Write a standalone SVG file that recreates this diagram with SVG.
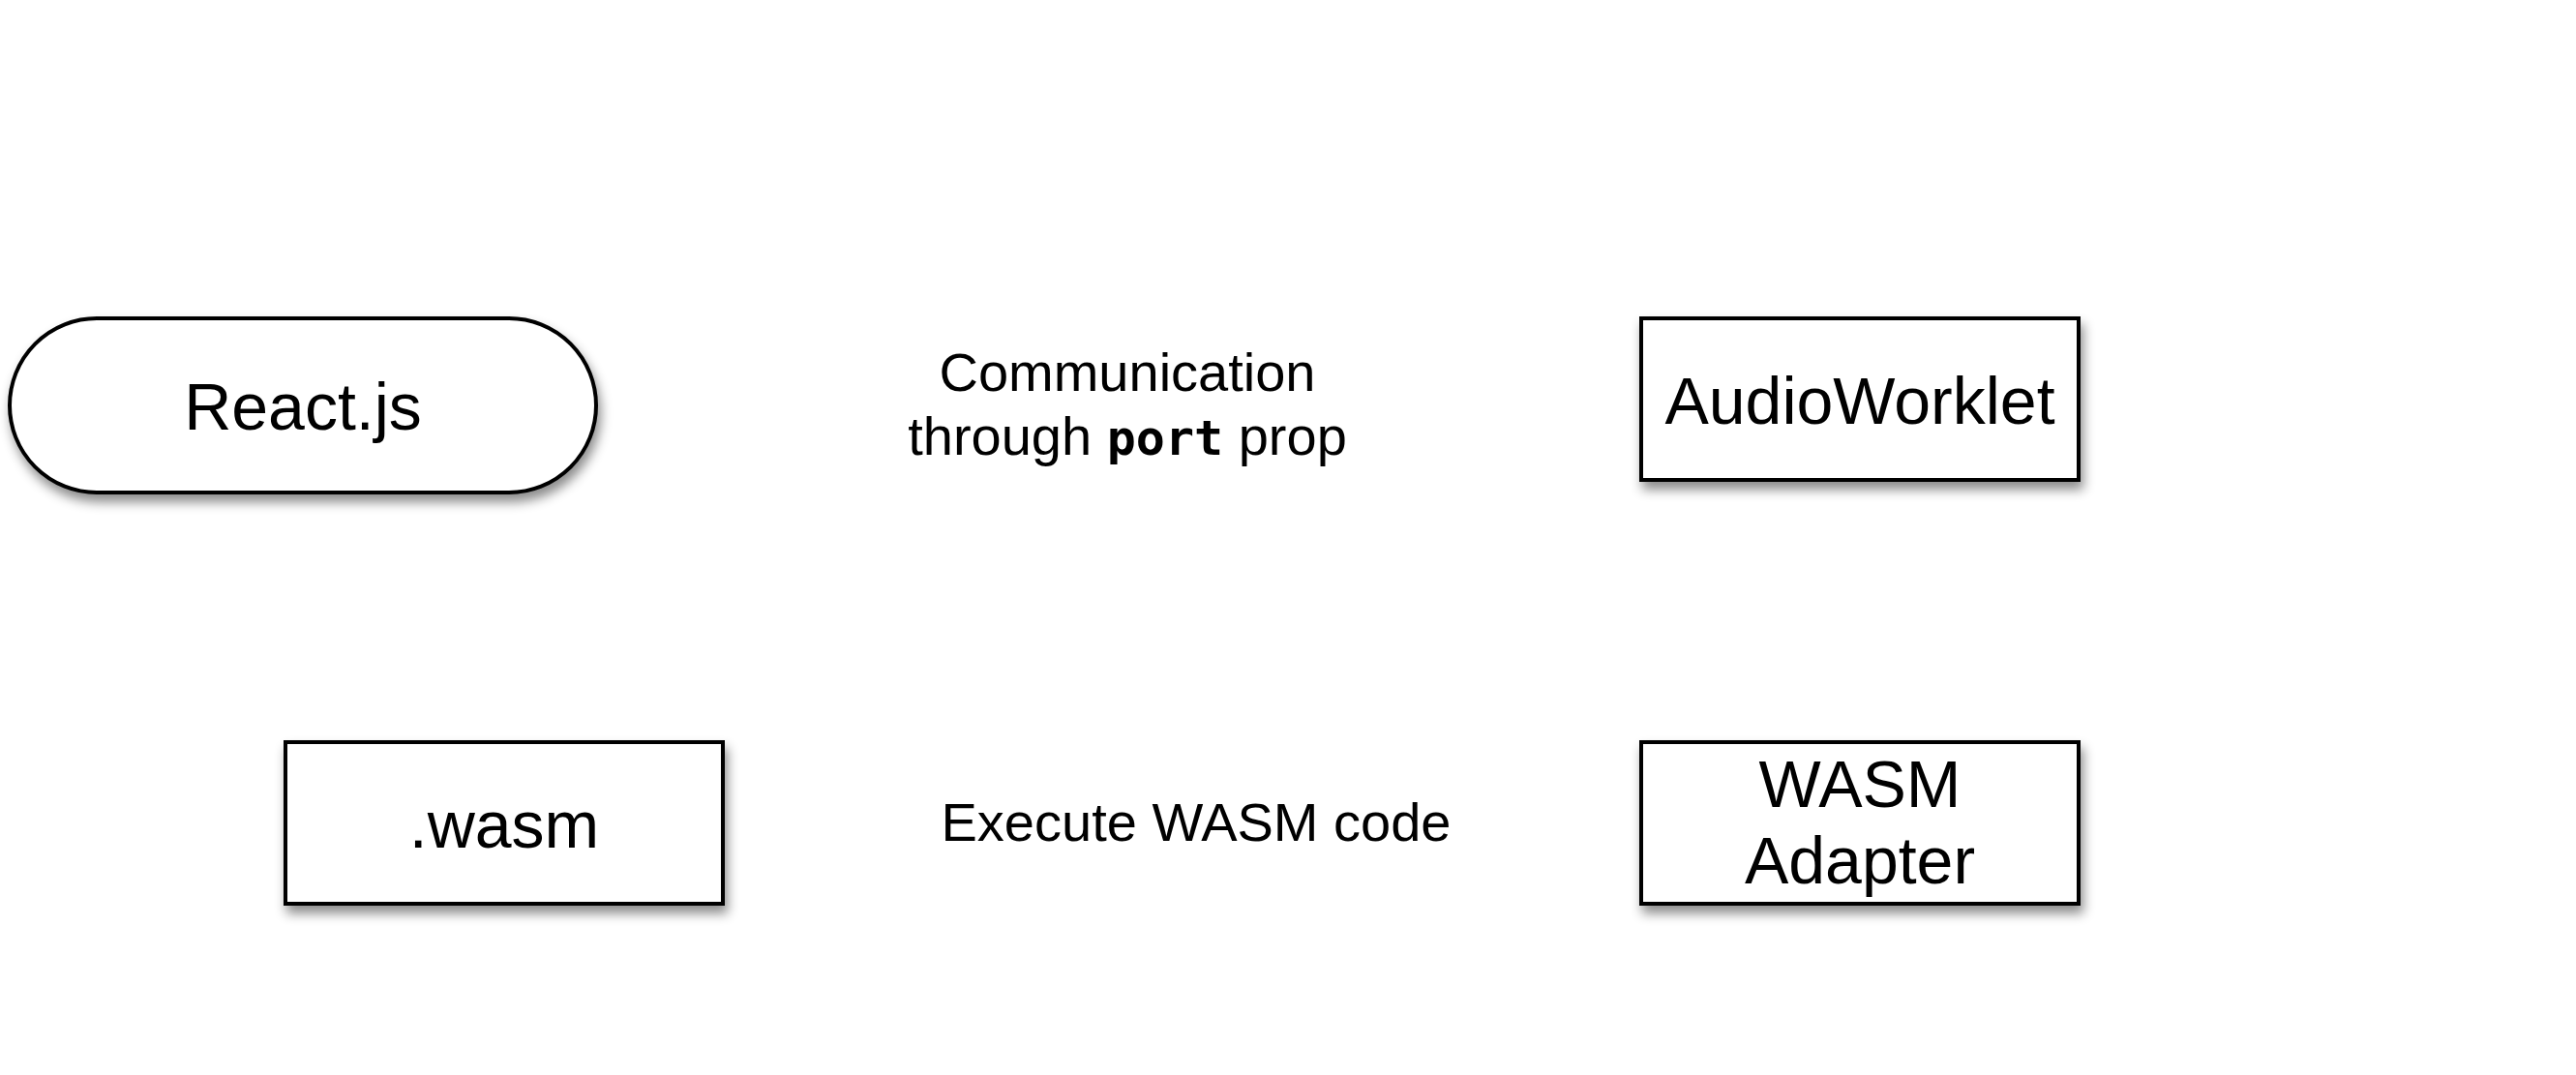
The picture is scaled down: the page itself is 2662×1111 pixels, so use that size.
<svg xmlns="http://www.w3.org/2000/svg" width="2662" height="1111" viewBox="0 0 2662 1111">
<style>
.node{fill:#fff;stroke:#000;stroke-width:4;filter:url(#sh)}
.lbl{font-family:"Liberation Sans",Arial,Helvetica,sans-serif;font-size:68px;fill:#000;text-anchor:middle}
.edge{font-family:"Liberation Sans",Arial,Helvetica,sans-serif;font-size:56px;fill:#000;text-anchor:middle}
.code{font-family:"DejaVu Sans Mono",monospace;font-weight:bold;font-size:50px}
.conn{fill:none;stroke:#fff;stroke-width:4}
</style>
<defs>
<filter id="sh" x="-10%" y="-20%" width="130%" height="150%">
<feDropShadow dx="3" dy="8" stdDeviation="6" flood-color="#000" flood-opacity="0.45"/>
</filter>
<marker id="ah" viewBox="0 0 10 10" refX="9" refY="5" markerWidth="5" markerHeight="5" orient="auto">
<path d="M0,0 L10,5 L0,10 z" fill="#fff"/>
</marker>
</defs>
<rect width="2662" height="1111" fill="#fff"/>
<g id="connectors">
<path class="conn" d="M616,419 L1696,419" marker-end="url(#ah)"/>
<path class="conn" d="M747,850 L1696,850" marker-end="url(#ah)"/>
<path class="conn" d="M1922,767 L1922,499" marker-end="url(#ah)"/>
<path class="conn" d="M1922,934 C1990,960 2200,900 2148,860"/>
<path class="conn" d="M2148,413 C2170,395 2175,380 2150,360"/>
</g>
<g id="react">
<rect class="node" x="10" y="329" width="606" height="180" rx="90" ry="90"/>
<text class="lbl" x="313" y="444">React.js</text>
</g>
<g id="audioworklet">
<rect class="node" x="1696" y="329" width="452" height="167"/>
<text class="lbl" x="1922" y="438">AudioWorklet</text>
</g>
<g id="wasm">
<rect class="node" x="295" y="767" width="452" height="167"/>
<text class="lbl" x="521" y="876">.wasm</text>
</g>
<g id="adapter">
<rect class="node" x="1696" y="767" width="452" height="167"/>
<text class="lbl" x="1922" y="834">WASM</text>
<text class="lbl" x="1922" y="913">Adapter</text>
</g>
<g id="label-communication">
<text class="edge" x="1165" y="404">Communication</text>
<text class="edge" x="1165" y="470">through <tspan class="code">port</tspan> prop</text>
</g>
<g id="label-execute">
<text class="edge" x="1236" y="869">Execute WASM code</text>
</g>
</svg>
